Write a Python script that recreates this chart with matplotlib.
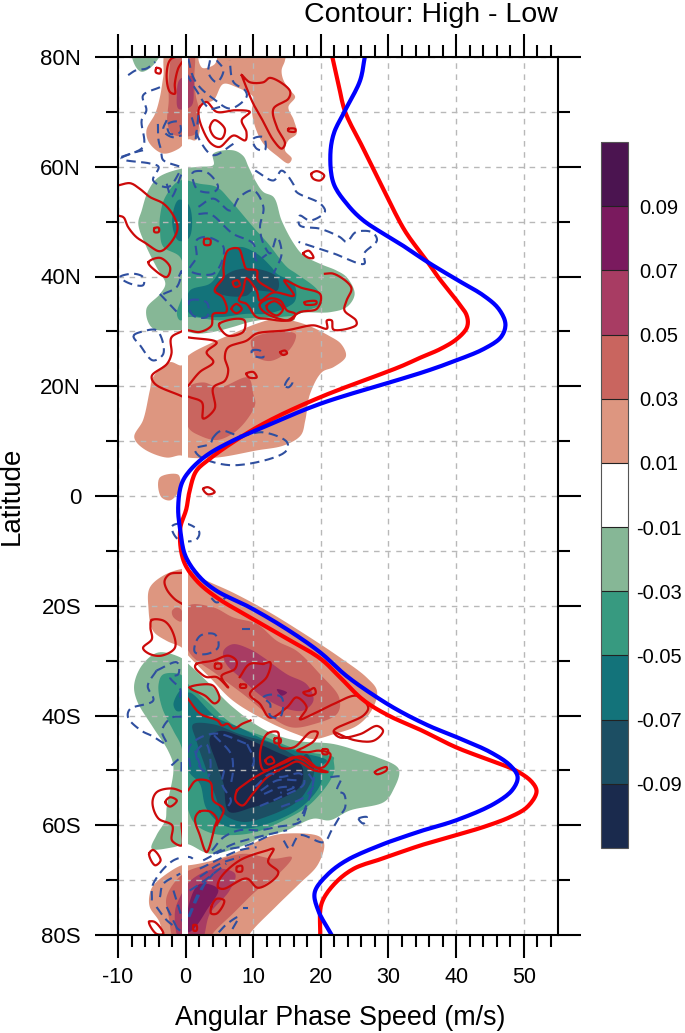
import numpy as np
import matplotlib
matplotlib.use('Agg')
import matplotlib.pyplot as plt
from matplotlib.colors import ListedColormap, BoundaryNorm
from matplotlib.colorbar import ColorbarBase
from matplotlib.ticker import MultipleLocator, FuncFormatter

plt.rcParams['font.family'] = ['Liberation Sans', 'DejaVu Sans']
plt.rcParams['axes.unicode_minus'] = False

levels = [-0.09, -0.07, -0.05, -0.03, -0.01, 0.01, 0.03, 0.05, 0.07, 0.09]
level_labels = ['-0.09', '-0.07', '-0.05', '-0.03', '-0.01', '0.01', '0.03', '0.05', '0.07', '0.09']
neg1, neg2, neg3, neg4, neg5 = '#86b796', '#379a80', '#13737a', '#1c4e63', '#1a2a4d'
pos1, pos2, pos3, pos4, pos5 = '#dd9680', '#c9655f', '#a83c63', '#7a1a5e', '#4b1450'
bar_colors = [neg5, neg4, neg3, neg2, neg1, '#ffffff', pos1, pos2, pos3, pos4, pos5]

# zonal wind curves (speed, latitude)
blue_wind = [(26.5, 80), (25.8, 75.7), (23.6, 70.3), (21.9, 66), (21.4, 61.8), (21.9, 56.9), (23.8, 53.3),
             (26.3, 50.2), (31.8, 45.9), (35.7, 42.7), (40, 39.5), (44.1, 36.5), (46.3, 34.1), (47.3, 31.3),
             (46.6, 28.9), (44.1, 26.8), (40, 24.7), (35.7, 22.8), (31.8, 21.3), (19.9, 16.8), (12, 12.8),
             (7, 10.1), (3.1, 7.4), (.6, 4.6), (-.6, 2.2), (-1.1, -2.1), (-.8, -6.2), (0, -11), (2.1, -14.8),
             (4.6, -17.3), (9.5, -20.3), (15, -24.3), (19.9, -28.5), (23.8, -32.8), (28.3, -36.7), (31.8, -39.3),
             (36.2, -42), (40, -43.9), (45.1, -46.7), (48, -49.1), (49.1, -51.2), (48.3, -53.6), (45.6, -56.1),
             (40, -59.1), (35.2, -60.9), (31.8, -62.3), (29.3, -63.4), (23.8, -66.4), (20.9, -69.1), (19.1, -72.2),
             (19.6, -75.5), (21.6, -80)]
red_wind = [(21.7, 80), (22.6, 75.1), (23.6, 70), (26.2, 63.5), (28.6, 57.5), (30.6, 52.5), (32.6, 48), (35.7, 42.8),
            (37.4, 39.8), (40.1, 35.6), (41.6, 32.8), (41.6, 30.7), (40.1, 28.6), (37.7, 26.8), (34.7, 25.2),
            (31.8, 23.6), (19.9, 18), (12, 13.5), (7, 9.8), (3.6, 6.8), (1.6, 4.6), (.6, 1), (.1, -2.4), (-.8, -6),
            (-.3, -11.8), (1.6, -15.4), (4.6, -18.5), (9.5, -22.1), (15, -26), (19.9, -29.6), (22.8, -33), (26.3, -37.2),
            (30, -40), (34.7, -42.6), (40, -45.8), (45.1, -48.2), (48.8, -50), (51.2, -52.1),
            (51.9, -53.9), (50.5, -56.7), (48, -58.5), (44.1, -60.3), (40, -61.8), (35.2, -63.5), (31.8, -64.9),
            (29.3, -66), (24.9, -67.9), (22, -70.7), (20.1, -74.3), (19.9, -80)]

# shaded regions, lowest level first
nh_top_green = [(-7.8, 81.5), (-3.6, 81.5), (-4.8, 78.5), (-6.5, 77.3), (-7.5, 78.5)]
nh_top_salmon = [(-2.5, 81.5), (-3.3, 76.4), (-3.8, 72.7), (-4.5, 69.7), (-5.8, 66.6), (-5.3, 64.2), (-3.3, 62.4),
                 (-1, 63.3), (.4, 65), (1.4, 64.8), (2.1, 66.6), (1.6, 70), (2.6, 71.5), (4.1, 72.1), (5.6, 75.1),
                 (7.5, 74.5), (10, 72.7), (9.8, 70.3), (10.3, 67.2), (11.5, 64.2), (13.5, 62), (15.2, 60.6),
                 (15.7, 61.5), (14.7, 63), (15.2, 64.8), (16.4, 66), (16, 68.5), (15.2, 70.9), (16.2, 72.7),
                 (15.5, 73.9), (14.5, 75.7), (14.2, 77.6), (14.7, 79.4), (14.7, 81.5)]
nh_top_gap = [(2, 80.5), (4.5, 80.5), (4.3, 78.7), (2.5, 78)]
nh_top_rose = [(-1.5, 81.5), (-2.5, 76), (-2.5, 72), (-2.7, 68), (-2, 66), (-.5, 65.5), (1.5, 66), (2, 70), (1.5, 73),
               (1.3, 76), (1, 81.5)]
nh_top_mauve = [(-1.3, 73), (-.8, 76), (1, 76.5), (1.2, 74), (.8, 71), (-1, 70.5)]

nh_green1 = [(4.1, 62.4), (7, 63), (8.5, 62), (9.3, 60), (10.3, 57.5), (11.5, 55.4), (13, 54.5), (14.2, 50.2), (16, 46),
             (17.4, 43.9), (19.9, 42.3), (22.3, 41.1), (23.8, 39.9), (25, 36.8), (23.8, 34.4), (21.4, 33.5),
             (16.4, 33.2), (16, 32), (13, 32.3), (9.5, 31.7), (7, 30.8), (4.1, 29.9), (1.6, 29.6), (-.6, 30.2),
             (-4.8, 30.5), (-5.8, 34.1), (-3.8, 36.8), (-3, 38.7), (-4.3, 41.7), (-5.8, 45.4), (-7, 49.6), (-6.5, 52),
             (-5.5, 55.7), (-4, 58.1), (-.8, 59.6), (2.1, 60), (4.1, 60.3)]
nh_green2 = [(-3.8, 50.8), (-3, 54.5), (-.8, 57.5), (2.1, 56.9), (4.6, 56.3), (6.6, 53.9), (10, 49), (12.2, 46), (15, 41.7),
             (16.4, 40.5), (19.6, 37.4), (20.1, 35), (17.9, 33.8), (16, 32.9), (9, 32.4), (5, 32), (.4, 32.6), (-.8, 32),
             (-1.3, 33.2), (-.3, 37.4), (-.8, 43.5), (-3.3, 45.4), (-3.8, 48.4)]
nh_teal_a = [(-2, 50), (-1, 54), (.5, 53), (.5, 47), (-1, 46.5)]
nh_teal_b = [(6, 44.2), (8, 45.4), (10.5, 44.2), (12.7, 41.7), (13.5, 40.5), (16, 38.7), (16.2, 35.6), (15, 34.4),
             (12, 33.2), (9, 33.2), (5, 32.6), (.6, 33.2), (.6, 37.4), (3.6, 38.7), (5, 41)]
nh_dark = [(4.6, 38.7), (7, 41), (10.5, 41.4), (13.5, 39.9), (13.5, 37.4), (10, 37.4), (9, 36.5), (6, 36.5), (4.3, 37.4)]

nh_low_salmon = [(.4, 25.6), (4, 28), (7, 29.6), (10.5, 31.4), (13.5, 32.3), (17.4, 31.4), (21.2, 29.2), (23, 27.7),
                 (23.7, 25.4), (21.9, 23.5), (20.2, 22.6), (18.4, 18.6), (17.7, 13.8), (17, 11), (14.5, 9.2), (10.5, 8.3),
                 (4.6, 7), (.4, 7), (-.8, 7.4), (-2.8, 7), (-6.2, 8.6), (-7.6, 10.7), (-6.3, 13.8), (-5.3, 19.2),
                 (-4.8, 21.7), (-2.3, 24.4), (-.6, 23.8)]
nh_low_rose_a = [(.4, 19.8), (2.6, 20.7), (5, 19.8), (9.2, 21.6), (10, 18.6), (10.3, 16.8), (9, 13.8), (7, 11.4), (4.6, 10.2),
                 (2.1, 11), (.4, 12.5)]
nh_low_rose_b = [(9.8, 28.6), (13, 29.9), (16.2, 29.6), (16.2, 28.4), (15, 26.2), (12.5, 24.6), (10.5, 25.3), (9.8, 26.8)]
eq_salmon = [(-3.8, 3.4), (-1.1, 3.9), (-1, 1), (-2.3, -.8), (-3.6, -.2)]

sh_salmon = [(-5.3, -16.7), (-3.3, -14.5), (-.6, -13.3), (.4, -13.3), (2.1, -14.8), (7, -17.6), (12, -20.9), (16.9, -24.6),
             (22.8, -29.4), (26.8, -33.1), (28.3, -35.5), (27.5, -39.1), (25.3, -41.9), (21.9, -43.4), (18.9, -44.3),
             (16.4, -43.4), (12, -41), (7, -37.3), (3.6, -33.1), (.4, -29.1), (-.6, -27.6), (-2.8, -26.4), (-4.8, -24.6),
             (-5.5, -20.3)]
sh_rose = [(.4, -20), (4.1, -20.3), (7, -22.1), (10.5, -23.3), (13.5, -26.4), (16.4, -28.2), (19.9, -32.5), (22.7, -36.7),
           (22.4, -39.7), (18.9, -41.6), (15.9, -42.2), (13.5, -41), (8.5, -36.1), (4.6, -32.5), (.4, -28.2)]
sh_rose_small = [(-1.3, -20.3), (-.6, -20.8), (-.7, -22.9), (-1.8, -22.1), (-2, -20.9)]
sh_mauve = [(5.6, -28.2), (7, -27), (9.5, -27.9), (11.5, -29.4), (15, -32.5), (17.9, -34.3), (18.9, -37.3), (17.4, -39.1),
            (15, -38.8), (11.5, -36.7), (8, -33), (6, -30.6)]
sh_purple = [(13.5, -35.2), (15, -35.8), (14.2, -36.4)]

sh_green1 = [(-4, -28.5), (-.8, -29.4), (.4, -30.6), (3.1, -33.7), (7, -38.5), (12, -42.8), (16.4, -44.6), (21.9, -45.2),
             (26.8, -47), (28.3, -47.6), (31.5, -49.7), (30.7, -53.6), (29.3, -55.8), (24.3, -57.3), (21.3, -59.1),
             (18.9, -58.8), (15, -60.9), (11.3, -62.2), (7.9, -64), (3.6, -65.2), (.1, -63.4), (-1.8, -64), (-5, -64.3),
             (-4.3, -61.8), (-3, -59.1), (-2.8, -56.7), (-1.8, -49.4), (-2.6, -46.4), (-4.8, -42.2), (-7.2, -37.3),
             (-7.6, -34.3), (-6.3, -30.6)]
sh_green2 = [(-4, -34.3), (-3.3, -32.5), (-.8, -32.5), (.4, -34.3), (3.6, -37.9), (7, -41.6), (12, -44), (17, -46.4), (21.9, -47.6),
             (21.9, -48.2), (22, -50), (21.4, -51.8), (19.9, -54.3), (17.9, -56.7), (15, -58.8), (10.5, -61.2), (7, -61.8),
             (4, -61.5), (1.6, -60), (.4, -57.3), (-.6, -45.8), (-1.8, -42.8), (-3.5, -38.5)]
sh_teal_small = [(-1.8, -37.9), (-.8, -35.5), (-.6, -39.1), (-1.3, -39.2)]
sh_teal = [(.4, -35.8), (4.6, -40.4), (8, -42.2), (12, -44.6), (17, -46.7), (20.9, -48.2), (20, -49.4), (20, -52.4), (17.4, -56.4),
           (13.5, -59.1), (9, -60.6), (5.6, -60), (3.1, -57), (2.1, -52.4), (.4, -50)]
sh_dark = [(1.1, -41.6), (4.1, -41.6), (8, -43.4), (13, -45.2), (17, -47.6), (17.9, -47), (19, -50), (17.9, -53.6), (16.4, -55.8),
           (12.5, -58.2), (8.5, -59.4), (5.6, -57.9), (4.3, -54.3), (3.1, -50), (1.6, -44.6)]
sh_navy = [(3.6, -44), (5.1, -42.8), (8.5, -44), (13, -46.4), (17, -48.9), (17.4, -50.6), (16.9, -53), (14, -55.2), (10, -56.7),
           (6.5, -57.6), (5.6, -52.4), (4.6, -48.8)]

sp_salmon = [(-5.3, -72.5), (-4.6, -70.7), (-.6, -67.3), (.4, -67.3), (3.1, -66.7), (7, -65.2), (12, -62.2), (15, -61.5),
             (19.7, -62), (20.5, -63.4), (19.5, -67.3), (16.8, -70.7), (13.3, -74.9), (9.5, -79.8), (9, -81.5), (-2.3, -81.5),
             (-4, -77.3), (-5.3, -74.9)]
sp_rose = [(-2.8, -73), (-.3, -68.8), (3.6, -67), (8.5, -65.2), (13, -66.1), (15.7, -65.8), (13.8, -68.8), (10.5, -71.9), (7, -76.1),
           (4, -79.8), (3.5, -81.5), (-1.3, -81.5), (-2.5, -76.7)]
sp_mauve = [(-.8, -73), (1.1, -69.7), (4.6, -67.9), (7.3, -68.8), (6.5, -71.9), (3.6, -76.1), (2.1, -81.5), (-.6, -81.5), (-1.6, -76.1)]
sp_purple = [(.4, -74.9), (2.1, -70.7), (4.8, -71.6), (3.1, -75.5), (1.4, -78.6), (.4, -79.5)]

shade_layers = [
    (nh_top_green, neg1), (nh_top_salmon, pos1), (nh_top_gap, 'white'), (nh_top_rose, pos2), (nh_top_mauve, pos3),
    (nh_low_salmon, pos1), (nh_low_rose_a, pos2), (nh_low_rose_b, pos2), (eq_salmon, pos1),
    (nh_green1, neg1), (nh_green2, neg2), (nh_teal_a, neg3), (nh_teal_b, neg3), (nh_dark, neg4),
    (sh_salmon, pos1), (sh_rose, pos2), (sh_rose_small, pos2), (sh_mauve, pos3), (sh_purple, pos4),
    (sh_green1, neg1), (sh_green2, neg2), (sh_teal_small, neg3), (sh_teal, neg3), (sh_dark, neg4), (sh_navy, neg5),
    (sp_salmon, pos1), (sp_rose, pos2), (sp_mauve, pos3), (sp_purple, pos4),
]

# positive contours
red_loops = [
    [(-.2, 80), (-1.1, 77.9), (-1.6, 75.1), (-1.6, 73.3), (-2.3, 73.6), (-2.8, 77), (-2.1, 79.7)],
    [(8.3, 76.7), (9.5, 75.4), (11.5, 75.4), (12.5, 76.2), (15.4, 73.9), (15.2, 72.4), (13, 70.6), (13.5, 67.2), (14.7, 64.2),
     (14.2, 63.3), (13, 64.8), (11.5, 68.2), (10, 71.5), (8.5, 76)],
    [(2.1, 70.9), (3.1, 71.8), (4.6, 70), (7.4, 70.3), (9.5, 70), (8.3, 68.5), (9, 66.3), (8.8, 64.8), (7.1, 65.7), (5, 63.6),
     (3.8, 64.2), (2.4, 67.2), (1.9, 69.7)],
    [(3.6, 67.2), (4.3, 68.5), (5.8, 66.9), (5.3, 65.1), (4.3, 65.4)],
    [(15.2, 66.9), (16.2, 66.9), (16.2, 66.4), (15.2, 66.5)],
    [(-4.3, 78), (-3.7, 77.8), (-3.8, 77), (-4.4, 77.2)],
    [(18.6, 58.7), (19.4, 59.2), (20.5, 58.4), (19.9, 57.5), (18.9, 57.8)],
    [(-4.6, 48.8), (-4, 48.9), (-4, 48.1), (-4.6, 48.1)],
    [(-5.5, 42.6), (-3.8, 43.4), (-2.3, 41.7), (-2.8, 39.9), (-4.5, 41.1)],
    [(2.8, 46.8), (3.6, 46.8), (3.6, 45.8), (2.8, 45.8)],
    [(17.4, 44.2), (18.2, 44.7), (18.9, 43.4), (18.2, 43.4)],
    [(5, 31.4), (7.5, 32.3), (8.7, 32), (8.5, 29.9), (6.3, 29.2), (5, 30.8)],
    [(9, 22.3), (10, 22.6), (10.5, 21.6), (9.4, 21.6)],
    [(2.6, 1.3), (3.3, 1.6), (4.3, .7), (3.3, .3)],
    [(14, 26.2), (14.7, 26.5), (15, 26), (14.4, 25.7)],
    [(11, 35), (12.5, 36), (14, 35.6), (15, 33.8), (16.2, 33.2), (15.5, 32), (12, 33.2), (11, 34.4)],
    [(12, 34.7), (13.2, 35.5), (14.4, 34.1), (13.5, 32.9), (12.2, 33.8)],
    [(6.8, 34.1), (7.5, 35), (8.3, 34.1), (7.5, 33.3)],
    [(7, 39), (7.7, 39.3), (8, 38.4), (7.3, 38.1)],
    [(17.6, 35.3), (19.3, 35.5), (19.3, 35), (17.7, 34.9)],
    [(9, 39.6), (8.5, 37.4), (7.9, 35.6), (9, 35), (10.5, 32.6), (12, 32.3), (15, 32), (16.9, 33.5), (19.4, 34.1), (19.9, 36.8),
     (17, 38), (14.6, 39.3), (16, 36.5), (13, 37.1), (11, 35.6), (10.5, 37.4)],
    [(-5, -22.6), (-3.3, -22.7), (-2.1, -24.3), (-1.6, -27.7), (-3.6, -29.1), (-5.3, -28.8), (-6.3, -27.7), (-5, -26.1), (-5.2, -24)],
    [(1.6, -30.6), (4.1, -30), (6.3, -29.1), (7.5, -30), (7.3, -31.5), (5.3, -32.8), (6.3, -34.9), (4.6, -33), (3.1, -33),
     (2.1, -32.2), (1.4, -31.2)],
    [(4.4, -30.6), (5.2, -30.6), (5.2, -31.4), (4.4, -31.4)],
    [(8.1, -34.4), (8.9, -34.4), (8.9, -34.9), (8.1, -34.9)],
    [(18.2, -35.5), (19, -35), (19.2, -36), (18.2, -36.4), (17.4, -35.8)],
    [(.6, -34.9), (3.1, -34.3), (4.1, -34.6), (5, -37), (4.3, -37.8), (2.9, -36.4)],
    [(12.1, -43.3), (13.6, -43), (14, -45.8), (16, -45.8), (18.5, -43), (19.5, -43), (19, -44.6), (17.5, -45.8), (16.5, -46.4),
     (18, -46.7), (19.7, -46.4), (21.4, -47), (20.4, -49.4), (19, -49.4), (17.5, -48.2), (16, -47.6), (14.3, -48.5), (11.6, -50),
     (11, -47)],
    [(7.6, -53.7), (8.4, -52.8), (9.9, -51.5), (12.1, -50), (15, -48.4), (16.5, -47.5), (17.5, -47.6), (19.5, -49.6), (21, -50.3),
     (19, -50), (16.5, -48.4), (15, -49.2), (12.1, -51.2), (9.9, -54.3), (8.4, -56.4), (7.4, -55.5)],
    [(11.8, -48.2), (12.6, -47.5), (13.1, -48.5), (12.2, -48.9)],
    [(13.2, -44.2), (14, -44.2), (14, -45), (13.2, -45)],
    [(20.3, -46.2), (21, -46.2), (21, -47), (20.3, -47)],
    [(-3, -55.8), (-2.3, -54.9), (-1.3, -55.5), (-2.3, -56.6)],
    [(2.1, -57.5), (1.4, -58.8), (2.1, -61.8), (3.1, -64.9), (4.3, -60.3), (4.6, -58.8), (3.6, -57.5)],
    [(-5.4, -65.2), (-4.8, -64.5), (-3.7, -66.4), (-4.5, -67.3)],
    [(4.8, -71.3), (5.1, -69.7), (8, -66.4), (12, -64.6), (13, -64.3), (12.2, -66.7), (13.7, -68.5), (13.2, -69.7), (10.7, -71.4),
     (9, -69.7), (5.6, -71.6)],
    [(7.6, -67.6), (8.3, -67.4), (8.3, -68.4), (7.6, -68.4)],
    [(3.8, -74.9), (4.6, -73.4), (5.7, -73.7), (4.6, -76.1), (3.8, -76.1)],
    [(1.2, -78.2), (1.6, -78.2), (1.6, -79.2), (1.2, -79.2)],
    [(-5.4, -77.6), (-4.6, -77.6), (-3.3, -79.8), (-4.3, -79.8)],
    [(28, -50.3), (29.7, -49.4), (29.7, -50), (28.3, -50.7)],
]
red_open = [
    [(-10, 56.6), (-8.2, 57), (-6.8, 56), (-5.3, 54.5), (-3.3, 53.3), (-1.8, 51.1), (-1.2, 48.7), (-2.3, 46), (-3.8, 44.6),
     (-5.8, 46), (-7.3, 47.2), (-8.5, 49), (-9.2, 50.8), (-10, 51.1)],
    [(.4, 30.2), (2.1, 29.9), (3.8, 31), (4.1, 33.2), (6, 33.5), (5.5, 36.2), (4.3, 37.4), (5.6, 39.9), (5.6, 41.7), (6.3, 44.8),
     (7.8, 45.1), (8.5, 42.9), (9, 41.4), (10.5, 41.1), (10.7, 39.3), (13, 37.4)],
    [(-.6, 30), (-2.1, 28.9), (-2.1, 25.9), (-2.8, 24), (-5, 21.9), (-4.5, 20.4), (-.6, 18.2)],
    [(.4, 18.1), (2.4, 17.1), (2.6, 14.1), (4.3, 15.9), (4.1, 19.8), (5.8, 21), (6.3, 22.9), (5.8, 25.3), (6.3, 27.1), (9, 28.3),
     (10.5, 29.6), (15, 30.2), (18.9, 31.1), (20.9, 30.5), (20.9, 32), (21.6, 32), (21.9, 30.3), (25.2, 31.1), (25.2, 32),
     (23.5, 33.8), (23.8, 35.6), (24.5, 38), (21.9, 40.5), (20.6, 40.5)],
    [(.4, 28.9), (4.6, 28), (3.1, 26.2), (4.1, 24.4), (2.1, 22.6), (.4, 20.1)],
    [(-.6, -14), (-2.3, -14.2), (-3.1, -15.4), (-2.8, -17), (-1.6, -18.8), (-.6, -19.6)],
    [(11.5, -30.6), (12.5, -30.3), (12, -33), (9.5, -36.1), (11, -37.9), (12.5, -40.4), (15, -38.5), (16.4, -36.7), (17.9, -38.5),
     (16.9, -40.7), (18.9, -39.7), (21.9, -37.9), (25.3, -36.4), (27, -38.5), (26.3, -40), (21.9, -42.8), (22.8, -44), (25.8, -43.4),
     (28.3, -41.9), (29.2, -42.8), (27.8, -44.6), (25, -44.5), (22, -43)],
    [(11.5, -30.6), (9.5, -30.6), (8, -33)],
    [(.2, -36.7), (2.2, -39.7), (4.7, -40.9), (5.4, -41.8), (6.2, -41.5), (7.1, -42.4), (8.4, -41.5), (9.6, -40.9)],
    [(-.1, -54.1), (-2, -53.3), (-4.2, -53.9), (-4.9, -55.8), (-4, -58.8), (-2, -60), (-2, -62.8), (-.6, -63.7), (-.6, -59.7)],
    [(.4, -53.6), (1.6, -51.8), (3.6, -52.1), (4.1, -55.5), (5.6, -57), (4.6, -60)],
]

# negative contours (dashed)
blue_loops = [
    [(10, 65.1), (11.5, 65.4), (11.7, 63), (10.5, 63.3)],
    [(1.1, 59), (3.1, 59), (4.8, 56.3), (4.1, 55.4), (1.9, 55.7), (1.1, 57.5)],
    [(1.6, 46.6), (3.1, 47.2), (5.6, 45.4), (4.1, 40.5), (.6, 41.1), (1.6, 43.5)],
    [(-9.7, 39.9), (-7.7, 40.5), (-6.3, 39.9), (-6.3, 38.4), (-8.2, 38.7)],
    [(-7.7, 29.2), (-6.3, 30), (-4.3, 30.2), (-3.3, 25.9), (-4.8, 24.7), (-6.7, 27.4)],
    [(.6, 35.6), (3.1, 35.3), (3.1, 32.6), (1.1, 32.9)],
    [(9.8, 26.5), (11, 26.5), (11.5, 25.3), (10, 25.6)],
    [(14.7, 20.1), (15.4, 21.5), (15.8, 20.7), (15.2, 19.8)],
    [(4.1, 10.7), (5.3, 11.9), (8, 11), (11.5, 11.6), (15, 9.8), (14.7, 8), (7, 5.6), (2.1, 7.2), (1.4, 8.6), (3.6, 9.5)],
    [(-2, -5.5), (0, -5), (2, -6.5), (1.5, -8), (-1, -8)],
    [(1.6, -26.4), (2.4, -25.3), (4.3, -25.2), (4.8, -27.6), (3.1, -28.8), (1.4, -28.5)],
    [(11.5, -36.7), (12.5, -36.2), (14.2, -36.7), (13.9, -40.4), (12.5, -40), (12.5, -37.9)],
    [(25.6, -58.8), (26.8, -58.5), (26.3, -59.7)],
    [(-2.6, 67.8), (-1.1, 68.2), (-.8, 66.3), (-2.3, 66)],
]
blue_open = [
    [(-8.5, 76.7), (-7.3, 77.6), (-5.8, 77.9), (-4.5, 79.1)],
    [(-3.8, 74.5), (-6.3, 73), (-5.8, 70.3), (-6.5, 68.5), (-6.3, 63.6), (-9.5, 61.5), (-5.3, 60.6), (-4, 60), (-4.8, 57.5),
     (-2.6, 56.3), (-.6, 59.6)],
    [(-9.5, 61.8), (-7.3, 62.7), (-6.3, 63)],
    [(-3.6, 62.4), (-3.3, 61.2), (-.8, 60)],
    [(-4.1, 67.8), (-4, 64.8), (-3.6, 63)],
    [(-2.8, 68.5), (-3.3, 66.6), (-2, 65.4), (-.6, 65.7)],
    [(.4, 79.7), (1.1, 76.4), (2.1, 74.5), (4.1, 72.4), (6.6, 70.6), (9, 72.7), (8.8, 73.9), (7.1, 75.4), (6.5, 79.4)],
    [(3.6, 79.4), (3.4, 77), (4.6, 75.4), (5.6, 77.6), (4.6, 79.4)],
    [(.1, 77), (1.6, 73.9), (3.6, 70.6), (5.1, 70.9)],
    [(.9, 69), (2.1, 64.8), (4.1, 62.1), (7.1, 64.2)],
    [(1.9, 69.4), (1.4, 64.2)],
    [(10.3, 59.3), (13, 57.5), (14.2, 59.3), (15.9, 56.9), (16.4, 55.4), (19.9, 53.3), (20.6, 51.8), (18.4, 50.2), (16.9, 51.1),
     (16.9, 49.3), (19.9, 48.7), (22.8, 47.2), (23.8, 46.3), (25.2, 48.1), (27.5, 48.1), (28.3, 46.6), (26.4, 44.2), (26.4, 42.3),
     (21.9, 44.2), (18.9, 45.4), (16.7, 46.3)],
    [(1.9, 52.7), (4.1, 54.2), (6.6, 52), (8, 54.5), (10, 55.7), (11.5, 52.7), (11, 49), (11.5, 46), (12.5, 44.2), (13.5, 47.2),
     (14.2, 44.2), (13, 40.5)],
    [(1.9, 51.4), (3.6, 51.4), (7, 47.8), (10, 46), (10.5, 42.9), (12, 44)],
    [(-2.8, 56.9), (-2.1, 54.5), (-.6, 58.7)],
    [(-3.3, 36.8), (-1.3, 38.1), (-.6, 41), (-1, 40)],
    [(-3.8, 36.8), (-.8, 32.9)],
    [(3.8, -18.6), (4.6, -19.4), (6.3, -18.2)],
    [(8.3, -24.3), (9.5, -24.3)],
    [(-4.3, -31.8), (-1.3, -30.3), (-1.1, -32.5), (-2.3, -33), (-.8, -35.2), (-.8, -36.7)],
    [(-4.3, -31.8), (-5.6, -34.6), (-4.8, -37.3), (-8.2, -38.8), (-8.5, -40.4), (-6.5, -42.8), (-5, -43.7), (-2.8, -45.2),
     (-3.5, -42.8), (-2.1, -40.4), (-.6, -40.2)],
    [(.7, -49.4), (.5, -45.8), (2.2, -44), (4.7, -43.3), (9.1, -45.2)],
    [(2.2, -49.4), (1.7, -46.4), (3, -45.2), (3.7, -48.8), (3.4, -51.2)],
    [(4.2, -43.6), (6.7, -47), (7, -50), (6.7, -52.5)],
    [(5.7, -50), (5.4, -52.5), (6.7, -55.5), (6.2, -56.7)],
    [(9.1, -45.2), (10.1, -48.2), (9.6, -50)],
    [(10.3, -53), (12.6, -50.6), (14, -51.2), (17, -50.6), (17.5, -52.5), (14, -54.9), (10.6, -56.7)],
    [(11.1, -53.7), (13.6, -51.8), (16.5, -51.8)],
    [(11.6, -54.3), (14, -53.1), (16, -53.1), (14, -54.1)],
    [(18.2, -50.6), (19, -52.5), (17.5, -54.9), (14, -56.7)],
    [(19, -51.2), (18.5, -54.3), (17, -58.5), (16.5, -59.1)],
    [(21.4, -51.2), (23, -51.2), (22.4, -53.7), (23.4, -54.3), (23.6, -56.7), (22.9, -58.2), (21.6, -60.9), (20.4, -63.1),
     (16.9, -61.8), (15.4, -64.3), (14.5, -62.8)],
    [(3.9, -64.6), (5.6, -62.2), (8, -60.9), (11, -60.9), (13.5, -60.3), (16.9, -59.4), (17.9, -56.7)],
    [(4.1, -65.2), (7.1, -63.4), (10.5, -62.2), (15, -60.9)],
    [(2.6, -66.4), (5.6, -64.6), (9, -63.7), (12.5, -61.8)],
    [(2.1, -67.9), (7.9, -64.6), (10.5, -64)],
    [(2.1, -69.4), (5.1, -67), (8, -65.8)],
    [(.6, -71.9), (2.1, -70.7), (6, -67)],
    [(.4, -76.7), (2.1, -71.9), (4.1, -68.8)],
    [(-.3, -79.2), (1.6, -73.7), (3.1, -70)],
    [(-5, -73.7), (-4.8, -70.7), (-1.8, -66.4), (.6, -65.8), (1.6, -66.7)],
    [(-3.8, -73.1), (-3.3, -70.7), (-.8, -68.8)],
    [(-4.3, -74.9), (-2.8, -77.3), (-.8, -79.2)],
    [(-2.8, -74.9), (-1.1, -79.2)],
    [(-1.8, -71.9), (-.6, -76.7), (-.2, -78.5)],
    [(4.9, -79.5), (6.1, -78), (7.8, -76.7), (6.8, -79.2)],
    [(8.5, -75), (9.2, -75)],
    [(-2.1, -49.1), (-.8, -47.9), (-.6, -50.6)],
    [(1.4, -46.4), (2.1, -49.4), (3.6, -50.9)],
]


def smooth(pts, closed=False, n=10):
    # centripetal Catmull-Rom through the read points, only to draw round outlines
    p = np.asarray(pts, dtype=float)
    if len(p) < 3:
        return p[:, 0], p[:, 1]
    if closed:
        p = np.vstack([p[-1], p, p[0], p[1]])
    else:
        p = np.vstack([2 * p[0] - p[1], p, 2 * p[-1] - p[-2]])
    out = []
    for i in range(len(p) - 3):
        p0, p1, p2, p3 = p[i], p[i + 1], p[i + 2], p[i + 3]
        t1 = np.hypot(*(p1 - p0)) ** 0.5 + 1e-6
        t2 = t1 + np.hypot(*(p2 - p1)) ** 0.5 + 1e-6
        t3 = t2 + np.hypot(*(p3 - p2)) ** 0.5 + 1e-6
        t = np.linspace(t1, t2, n, endpoint=False)[:, None]
        a1 = (t1 - t) / t1 * p0 + t / t1 * p1
        a2 = (t2 - t) / (t2 - t1) * p1 + (t - t1) / (t2 - t1) * p2
        a3 = (t3 - t) / (t3 - t2) * p2 + (t - t2) / (t3 - t2) * p3
        b1 = (t2 - t) / t2 * a1 + t / t2 * a2
        b2 = (t3 - t) / (t3 - t1) * a2 + (t - t1) / (t3 - t1) * a3
        out.append((t2 - t) / (t2 - t1) * b1 + (t - t1) / (t2 - t1) * b2)
    out = np.vstack(out + [p[-2][None, :]])
    return out[:, 0], out[:, 1]


fig = plt.figure(figsize=(6.85, 10.33), dpi=100)
ax = fig.add_axes([118 / 685, 1 - 935 / 1033, (557.5 - 118) / 685, (935 - 57) / 1033])

for pts, col in shade_layers:
    xs, ys = smooth(pts, closed=True)
    ax.fill(xs, ys, color=col, lw=0, zorder=1)

for line in red_loops:
    ax.plot(*smooth(line, closed=True), color='#cc0a0a', lw=1.6, zorder=3)
for line in red_open:
    ax.plot(*smooth(line), color='#cc0a0a', lw=1.6, zorder=3)
for line in blue_loops:
    ax.plot(*smooth(line, closed=True), color='#2f4f9f', lw=1.5, ls=(0, (4.5, 2.6)), zorder=3)
for line in blue_open:
    ax.plot(*smooth(line), color='#2f4f9f', lw=1.5, ls=(0, (4.5, 2.6)), zorder=3)

# missing data band around zero speed
ax.axvspan(-0.5, 0.4, color='white', lw=0, zorder=4)
ax.grid(True, which='major', axis='x', color='#b8b8b8', ls=(0, (4, 4)), lw=1.0)
ax.grid(True, which='both', axis='y', color='#b8b8b8', ls=(0, (4, 4)), lw=1.0)
ax.set_axisbelow(False)
for g in ax.get_xgridlines() + ax.get_ygridlines():
    g.set_zorder(5)

ax.plot(*smooth(red_wind), color='#ff0000', lw=3.0, zorder=6)
ax.plot(*smooth(blue_wind), color='#0000ff', lw=3.0, zorder=7)

ax.set_xlim(-10, 55)
ax.set_ylim(-80, 80)
ax.xaxis.set_major_locator(MultipleLocator(10))
ax.xaxis.set_minor_locator(MultipleLocator(2))
ax.yaxis.set_major_locator(MultipleLocator(20))
ax.yaxis.set_minor_locator(MultipleLocator(10))


def lat_label(v, pos):
    if v == 0:
        return '0'
    return '%d%s' % (abs(v), 'N' if v > 0 else 'S')


ax.yaxis.set_major_formatter(FuncFormatter(lat_label))
ax.tick_params(which='major', direction='out', length=16.6, width=1.5, top=True, right=True)
ax.tick_params(which='minor', direction='out', length=8.6, width=1.5, top=True, right=True)
ax.tick_params(axis='x', which='major', pad=6.5, labelsize=15.5)
ax.tick_params(axis='y', which='major', pad=10, labelsize=16)
for sp in ax.spines.values():
    sp.set_linewidth(1.5)
    sp.set_zorder(8)

ax.set_xlabel('Angular Phase Speed (m/s)', fontsize=19.4, va='center')
ax.xaxis.set_label_coords(0.505, -0.0945)
ax.set_ylabel('Latitude', fontsize=20, va='center')
ax.yaxis.set_label_coords(-0.241, 0.5)
ax.set_title('Contour: High - Low', loc='right', fontsize=20.5, pad=25)

cax = fig.add_axes([601 / 685, 1 - 848 / 1033, 27 / 685, 706 / 1033])
cmap = ListedColormap(bar_colors[1:-1])
cmap.set_under(bar_colors[0])
cmap.set_over(bar_colors[-1])
norm = BoundaryNorm(levels, cmap.N)
cb = ColorbarBase(cax, cmap=cmap, norm=norm, extend='both', extendrect=True, extendfrac=1 / 9, spacing='uniform',
                  ticks=levels, drawedges=True)
cb.ax.set_yticklabels(level_labels, ha='center')
cb.ax.tick_params(length=0, labelsize=14.5, pad=22)
cb.outline.set_linewidth(0.8)
cb.outline.set_edgecolor('#555555')
cb.dividers.set_color('#222222')
cb.dividers.set_linewidth(0.8)

fig.savefig('out.png', dpi=100)
